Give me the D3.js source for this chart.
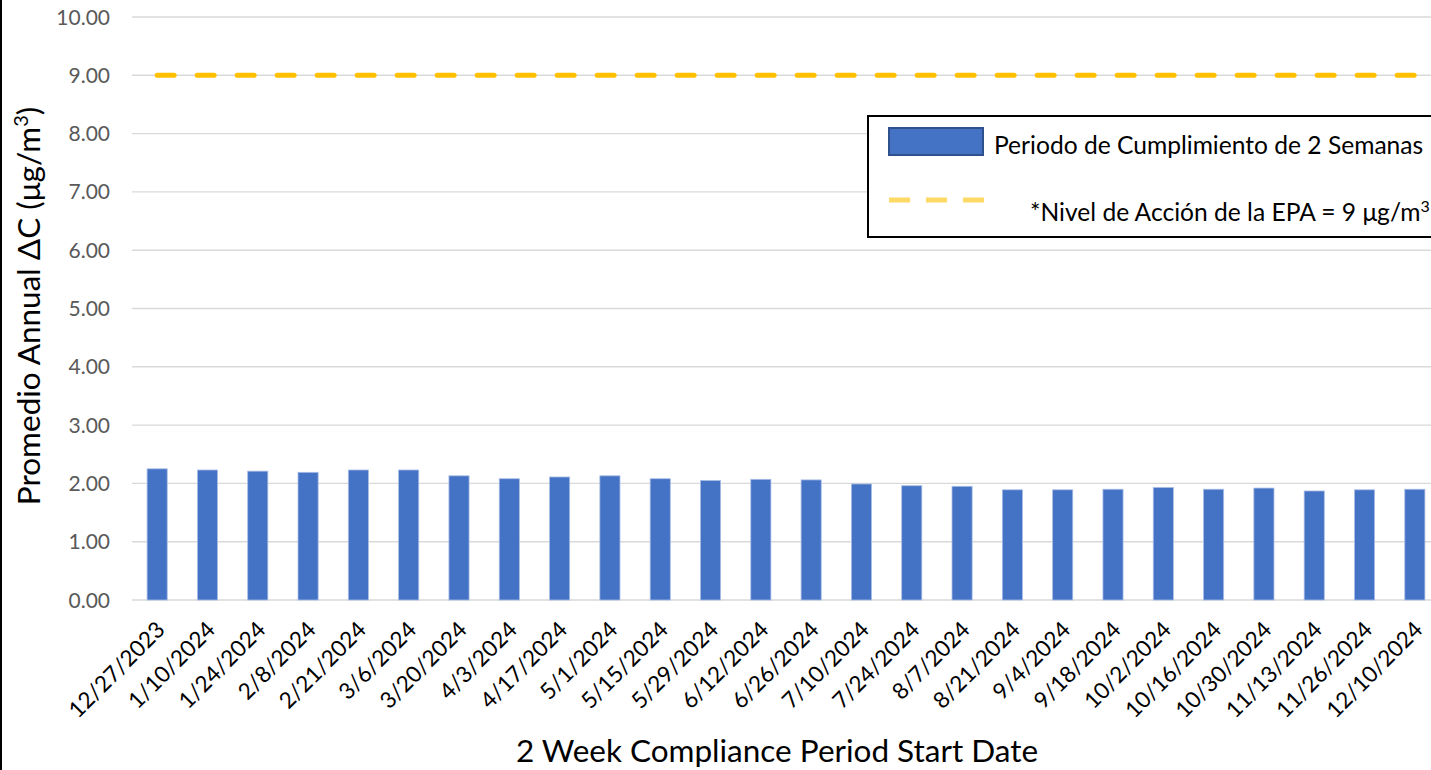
<!DOCTYPE html>
<html>
<head>
<meta charset="utf-8">
<script src="https://cdn.jsdelivr.net/npm/d3@7"></script>
<style>
	body { margin: 0; background: #fff; }
	svg { display: block; font-family: Lato, "Open Sans", sans-serif; }
	.y_tick { fill: #595959; font-size: 21px; }
	.x_tick { fill: #000; font-size: 22.5px; }
	.axis_title { fill: #000; font-size: 31.5px; }
	.legend_text { fill: #000; font-size: 24.6px; }
</style>
</head>
<body>
<div id="chart"></div>
<script>
// period start dates (categories)
let dates = ["12/27/2023", "1/10/2024", "1/24/2024", "2/8/2024", "2/21/2024", "3/6/2024",
	"3/20/2024", "4/3/2024", "4/17/2024", "5/1/2024", "5/15/2024", "5/29/2024", "6/12/2024",
	"6/26/2024", "7/10/2024", "7/24/2024", "8/7/2024", "8/21/2024", "9/4/2024", "9/18/2024",
	"10/2/2024", "10/16/2024", "10/30/2024", "11/13/2024", "11/26/2024", "12/10/2024"];

// annual average delta C per 2 week period
let deltaC = [2.25, 2.23, 2.21, 2.19, 2.23, 2.23, 2.13, 2.08, 2.11, 2.13, 2.08, 2.05, 2.07,
	2.06, 1.99, 1.96, 1.95, 1.89, 1.89, 1.90, 1.93, 1.90, 1.92, 1.87, 1.89, 1.90];

// EPA action level
let epaLevel = dates.map(() => 9);

// y axis ticks
let yTicks = [0, 1, 2, 3, 4, 5, 6, 7, 8, 9, 10];

let legendLabels = ["Periodo de Cumplimiento de 2 Semanas", "*Nivel de Acción de la EPA = 9 μg/m"];

let W = 1431, H = 770;

let svg = d3.select("#chart")
	.append("svg")
	.attr("width", W)
	.attr("height", H);

// scales
let x_scale = d3.scaleBand()
	.domain(dates)
	.range([132, 1440])
	.paddingInner(0.6)
	.paddingOuter(0.3);

let y_scale = d3.scaleLinear()
	.domain([0, 10])
	.range([600, 17]);

// gridlines
svg.append("g")
	.selectAll("line")
	.data(yTicks)
	.enter()
	.append("line")
	.attr("x1", 132)
	.attr("x2", 1440)
	.attr("y1", d => y_scale(d))
	.attr("y2", d => y_scale(d))
	.attr("stroke", "#d9d9d9")
	.attr("stroke-width", 1.4);

// y tick labels
svg.append("g")
	.selectAll("text")
	.data(yTicks)
	.enter()
	.append("text")
	.attr("class", "y_tick")
	.attr("text-anchor", "end")
	.attr("x", 110)
	.attr("y", d => y_scale(d))
	.attr("dy", "0.36em")
	.text(d => d3.format(".2f")(d));

// bars
svg.append("g")
	.selectAll("rect")
	.data(deltaC)
	.enter()
	.append("rect")
	.attr("x", (d, i) => x_scale(dates[i]))
	.attr("y", d => y_scale(d))
	.attr("width", x_scale.bandwidth())
	.attr("height", d => y_scale(0) - y_scale(d))
	.attr("fill", "#4472c4")
	.attr("stroke", "#a9bde6")
	.attr("stroke-width", 0.8);

// EPA line
let epa_line = d3.line()
	.x((d, i) => x_scale(dates[i]) + x_scale.bandwidth() / 2)
	.y(d => y_scale(d));

svg.append("path")
	.datum(epaLevel)
	.attr("d", epa_line)
	.attr("fill", "none")
	.attr("stroke", "#ffc000")
	.attr("stroke-width", 5)
	.attr("stroke-linecap", "round")
	.attr("stroke-dasharray", "17,23");

// x tick labels
svg.append("g")
	.selectAll("text")
	.data(dates)
	.enter()
	.append("text")
	.attr("class", "x_tick")
	.attr("text-anchor", "end")
	.attr("transform", d => "translate(" + (x_scale(d) + x_scale.bandwidth() / 2 - 2) + "," + 620 + ") rotate(-45)")
	.attr("dy", "0.7em")
	.text(d => d);

// axis titles
svg.append("text")
	.attr("class", "axis_title")
	.attr("text-anchor", "middle")
	.attr("x", 777)
	.attr("y", 762)
	.text("2 Week Compliance Period Start Date");

let ytitle = svg.append("text")
	.attr("class", "axis_title")
	.attr("text-anchor", "middle")
	.attr("transform", "translate(40,306) rotate(-90)");
ytitle.append("tspan").text("Promedio Annual ΔC (μg/m");
ytitle.append("tspan").attr("baseline-shift", "super").attr("font-size", "20px").text("3");
ytitle.append("tspan").text(")");

// left border
svg.append("line")
	.attr("x1", 1).attr("x2", 1)
	.attr("y1", 0).attr("y2", H)
	.attr("stroke", "#000")
	.attr("stroke-width", 2);

// legend
let legend = svg.append("g");
legend.append("rect")
	.attr("x", 868).attr("y", 116)
	.attr("width", 580).attr("height", 121)
	.attr("fill", "#fff")
	.attr("stroke", "#000")
	.attr("stroke-width", 2);

legend.append("rect")
	.attr("x", 889).attr("y", 128)
	.attr("width", 94).attr("height", 27)
	.attr("fill", "#4472c4")
	.attr("stroke", "#2f528f")
	.attr("stroke-width", 2);

legend.append("text")
	.attr("class", "legend_text")
	.attr("x", 994).attr("y", 154)
	.text(legendLabels[0]);

legend.append("line")
	.attr("x1", 889).attr("x2", 986)
	.attr("y1", 200).attr("y2", 200)
	.attr("stroke", "#ffd966")
	.attr("stroke-width", 5)
	.attr("stroke-dasharray", "21,16");

let lt = legend.append("text")
	.attr("class", "legend_text")
	.attr("x", 1030).attr("y", 221);
lt.append("tspan").text(legendLabels[1]);
lt.append("tspan").attr("baseline-shift", "super").attr("font-size", "16px").text("3");
</script>
</body>
</html>
